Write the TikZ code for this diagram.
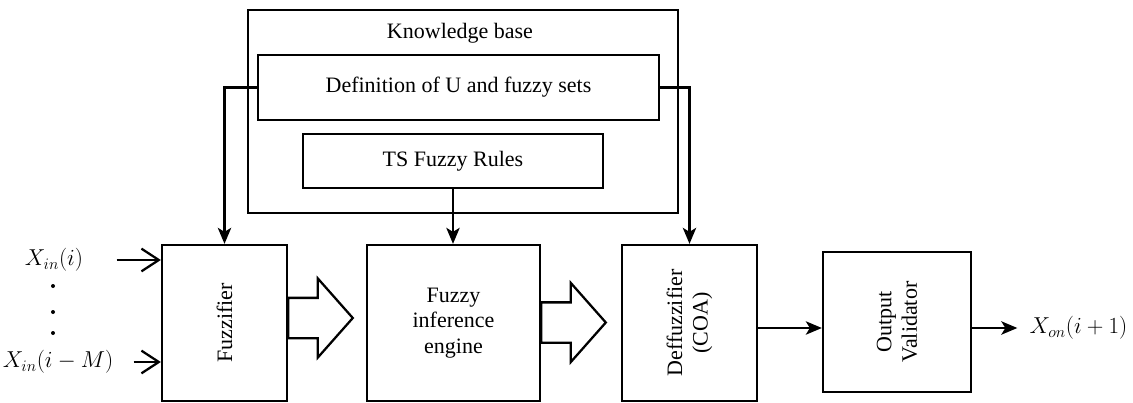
\documentclass[tikz,border=0pt]{standalone}
\usepackage{amsmath}
\usepackage{fontspec}
\setmainfont{Liberation Serif}
\usetikzlibrary{arrows.meta, positioning, calc, shapes.arrows}

\begin{document}
\begin{tikzpicture}[x=0.75pt, y=-0.75pt,
        every node/.style={font=\fontsize{16.5}{19}\selectfont},
        block/.style={draw, line width=1.7pt, inner sep=0pt},
        fat/.style={draw, line width=1.7pt, shape=single arrow, single arrow head extend=14.6pt,
            single arrow tip angle=97, minimum height=48.5pt, inner xsep=0pt, inner ysep=14.25pt,
            anchor=tail},
        link/.style={line width=1.7pt, -{Stealth[length=12pt, width=10pt, inset=3pt]}},
        feed/.style={line width=1.7pt, -{Straight Barb[length=13pt, width=17pt, line width=1.7pt]}},
        dot/.style={circle, fill, inner sep=0pt, minimum size=3pt}]
        \useasboundingbox (0,0) rectangle (1133,403);

        % knowledge base
        \node[block, minimum width=322.5pt, minimum height=152.25pt] (KB) at (463,111.5) {};
        \node (KBtitle) at (460,33) {Knowledge base};
        \node[block, minimum width=300.75pt, minimum height=48.75pt] (Def) at (458.5,87.5) {Definition of U and fuzzy sets};
        \node[block, minimum width=225pt, minimum height=40.5pt] (Rules) at (453,161) {TS Fuzzy Rules};

        % processing chain
        \node[block, minimum width=93.75pt, minimum height=117pt] (Fuzz) at (224.5,323) {};
        \node[block, minimum width=129.75pt, minimum height=117pt, align=center] (FIE) at (453.5,323) {Fuzzy\\inference\\engine};
        \node[block, minimum width=101.25pt, minimum height=117pt] (Defuzz) at (689.5,323) {};
        \node[block, minimum width=111pt, minimum height=105pt] (Valid) at (897,322) {};
        \node[rotate=90] (FuzzTxt) at (Fuzz.center) {Fuzzifier};
        \node[rotate=90, align=center] (DefuzzTxt) at (Defuzz.center) {Deffuzzifier\\(COA)};
        \node[rotate=90, align=center] (ValidTxt) at (Valid.center) {Output\\Validator};

        \node[fat] (F1) at (287,318) {};
        \node[fat] (F2) at (540,322.5) {};

        % inputs and output
        \node[inner sep=1pt] (Xin1) at (54,260) {$X_{in}(i)$};
        \node[dot] (D1) at (53,286) {};
        \node[dot] (D2) at (53,312) {};
        \node[dot] (D3) at (53,333) {};
        \node[inner sep=1pt] (XinM) at (58,362) {$X_{in}(i-M)$};
        \node[inner sep=1pt, anchor=west] (Xout) at (1028,328) {$X_{on}(i+1)$};

        \draw[link] (Def.west) -| (Fuzz.north);
        \draw[link] (Def.east) -| (Defuzz.north);
        \draw[link] (Rules.south) -- (Rules.south |- FIE.north);
        \draw[feed, shorten <=24pt] (Xin1.east) -- (Xin1 -| Fuzz.west);
        \draw[feed, shorten <=14pt] (XinM.east) -- (XinM -| Fuzz.west);
        \draw[link] ($(Defuzz.east)+(0,5)$) -- ($(Valid.west)+(0,6)$);
        \draw[link, shorten >=8pt] ($(Valid.east)+(0,6)$) -- (Xout.west);
    \end{tikzpicture}
\end{document}
